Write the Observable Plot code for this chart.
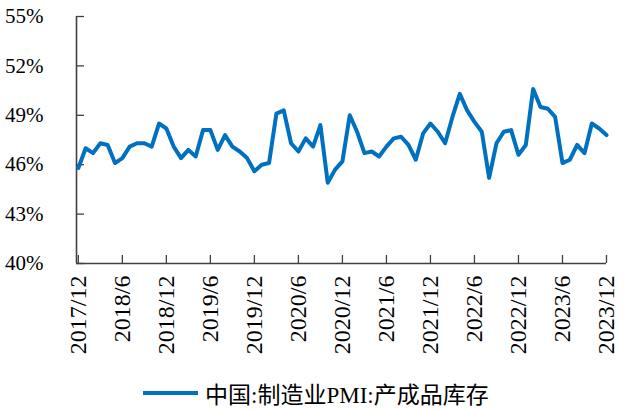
<!DOCTYPE html>
<html>
<head>
<meta charset="utf-8">
<script src="https://cdn.jsdelivr.net/npm/d3@7"></script>
<script src="https://cdn.jsdelivr.net/npm/@observablehq/plot@0.6"></script>
<style>
  html, body { margin: 0; padding: 0; background: #fff; }
  #wrap { width: 625px; }
  #legend { height: 40px; display: flex; align-items: center; padding-left: 143px; padding-top: 6px; box-sizing: border-box;
            font-family: "Liberation Serif", "Noto Sans CJK SC", serif; font-size: 23px; color: #000; }
  #legend .sw { width: 55px; height: 4px; background: #0070C0; margin-right: 7px; }
</style>
</head>
<body>
<div id="wrap"><div id="chart"></div><div id="legend"><span class="sw"></span><span id="legtext"></span></div></div>
<script>
const seriesName = "中国:制造业PMI:产成品库存";
const months = [
  "2017/12",
  "2018/1","2018/2","2018/3","2018/4","2018/5","2018/6","2018/7","2018/8","2018/9","2018/10","2018/11","2018/12",
  "2019/1","2019/2","2019/3","2019/4","2019/5","2019/6","2019/7","2019/8","2019/9","2019/10","2019/11","2019/12",
  "2020/1","2020/2","2020/3","2020/4","2020/5","2020/6","2020/7","2020/8","2020/9","2020/10","2020/11","2020/12",
  "2021/1","2021/2","2021/3","2021/4","2021/5","2021/6","2021/7","2021/8","2021/9","2021/10","2021/11","2021/12",
  "2022/1","2022/2","2022/3","2022/4","2022/5","2022/6","2022/7","2022/8","2022/9","2022/10","2022/11","2022/12",
  "2023/1","2023/2","2023/3","2023/4","2023/5","2023/6","2023/7","2023/8","2023/9","2023/10","2023/11","2023/12"
];
const values = [
  45.8,
  47.0, 46.7, 47.3, 47.2, 46.1, 46.4, 47.1, 47.3, 47.3, 47.1, 48.5, 48.2,
  47.1, 46.4, 46.9, 46.5, 48.1, 48.1, 46.9, 47.8, 47.1, 46.8, 46.4, 45.6,
  46.0, 46.1, 49.1, 49.3, 47.3, 46.8, 47.6, 47.1, 48.4, 44.9, 45.7, 46.2,
  49.0, 48.0, 46.7, 46.8, 46.5, 47.1, 47.6, 47.7, 47.2, 46.3, 47.9, 48.5,
  48.0, 47.3, 48.9, 50.3, 49.3, 48.6, 48.0, 45.2, 47.3, 48.0, 48.1, 46.6,
  47.2, 50.6, 49.5, 49.4, 48.9, 46.1, 46.3, 47.2, 46.7, 48.5, 48.2, 47.8
];
const xTickLabels = ["2017/12","2018/6","2018/12","2019/6","2019/12","2020/6","2020/12","2021/6","2021/12","2022/6","2022/12","2023/6","2023/12"];
const yTicks = [40, 43, 46, 49, 52, 55];

const data = months.map((m, i) => ({i, m, v: values[i]}));
const xTicks = xTickLabels.map(l => months.indexOf(l));
const xDomain = [-0.25, months.length - 1];
const axisColor = "#404040";

const chart = Plot.plot({
  width: 625,
  height: 370,
  marginLeft: 76,
  marginRight: 19,
  marginTop: 16,
  marginBottom: 107,
  style: {fontFamily: "Liberation Serif, serif", fontSize: "21px", color: "#000", background: "#fff"},
  x: {type: "linear", domain: xDomain},
  y: {domain: [40, 55]},
  marks: [
    Plot.axisY(yTicks, {tickSize: 8, dx: 8, tickFormat: () => "", stroke: axisColor, strokeWidth: 1.3, label: null}),
    Plot.axisY(yTicks, {tickSize: 0, tickPadding: 33, tickFormat: d => d + "%", fontSize: 21, label: null}),
    Plot.axisX(xTicks, {tickSize: 8, dy: -8, tickFormat: () => "", stroke: axisColor, strokeWidth: 1.3, label: null}),
    Plot.axisX(xTicks, {tickSize: 0, tickPadding: 12, tickRotate: -90, tickFormat: i => xTickLabels[xTicks.indexOf(i)], fontSize: 24, label: null}),
    Plot.ruleX([xDomain[0]], {stroke: axisColor, strokeWidth: 1.6}),
    Plot.ruleY([40], {stroke: axisColor, strokeWidth: 1.6}),
    Plot.line(data, {x: "i", y: "v", stroke: "#0070C0", strokeWidth: 4, strokeLinejoin: "round", strokeLinecap: "round"})
  ]
});
document.getElementById("chart").appendChild(chart);
document.getElementById("legtext").textContent = seriesName;
</script>
</body>
</html>
